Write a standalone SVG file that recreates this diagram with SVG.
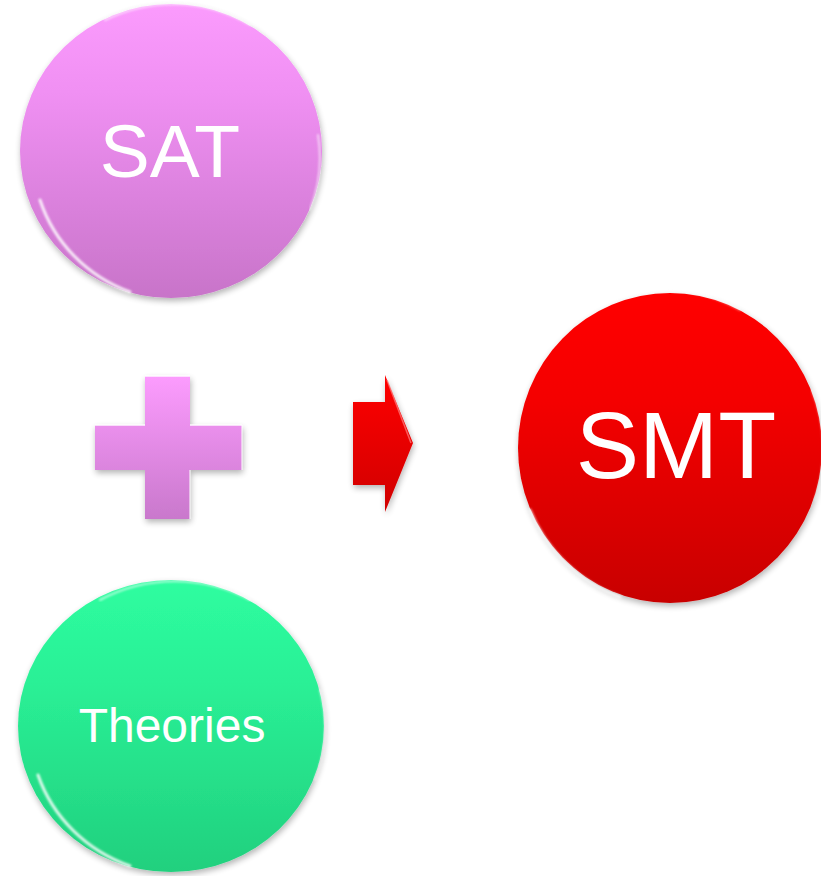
<svg xmlns="http://www.w3.org/2000/svg" width="821" height="876" viewBox="0 0 821 876">
<style>
.lbl{font-family:"Liberation Sans",Arial,sans-serif;fill:#ffffff;text-anchor:middle}
.rim{fill:none;stroke:#ffffff;stroke-linecap:round}
</style>
<defs>
<linearGradient id="gPink" x1="0" y1="0" x2="0" y2="1">
<stop offset="0" stop-color="#FB9BFD"/><stop offset="0.3" stop-color="#F090F3"/><stop offset="1" stop-color="#C874C9"/>
</linearGradient>
<linearGradient id="gRed" x1="0" y1="0" x2="0" y2="1">
<stop offset="0" stop-color="#FF0202"/><stop offset="0.35" stop-color="#F40000"/><stop offset="1" stop-color="#C80000"/>
</linearGradient>
<linearGradient id="gGreen" x1="0" y1="0" x2="0" y2="1">
<stop offset="0" stop-color="#2EFDA0"/><stop offset="0.35" stop-color="#2AF096"/><stop offset="1" stop-color="#21D07E"/>
</linearGradient>
<linearGradient id="gPlus" x1="0" y1="0" x2="0" y2="1">
<stop offset="0" stop-color="#FC9CFE"/><stop offset="1" stop-color="#C978CC"/>
</linearGradient>
<linearGradient id="gArrow" x1="0" y1="0" x2="0" y2="1">
<stop offset="0" stop-color="#FF0505"/><stop offset="1" stop-color="#D00000"/>
</linearGradient>
<filter id="sh" x="-20%" y="-20%" width="140%" height="140%">
<feGaussianBlur in="SourceAlpha" stdDeviation="3"/>
<feOffset dx="1" dy="3" result="b"/>
<feComponentTransfer><feFuncA type="linear" slope="0.3"/></feComponentTransfer>
<feMerge><feMergeNode/><feMergeNode in="SourceGraphic"/></feMerge>
</filter>
<filter id="blur1"><feGaussianBlur stdDeviation="1.2"/></filter>
</defs>

<g id="sat">
<ellipse cx="171" cy="151" rx="151" ry="147" fill="url(#gPink)" filter="url(#sh)"/>
<path class="rim" d="M40 200 A150 146 0 0 0 130 292" stroke-width="3" opacity="0.85" filter="url(#blur1)"/>
<path class="rim" d="M105 20 A150 146 0 0 1 250 25" stroke-width="2" opacity="0.6" filter="url(#blur1)"/>
<path class="rim" d="M318 135 A150 146 0 0 1 310 210" stroke-width="2" opacity="0.6" filter="url(#blur1)"/>
<text class="lbl" x="170" y="177" font-size="75">SAT</text>
</g>

<g id="plus">
<path d="M145 376 H190 V425 H242 V470 H190 V519 H145 V470 H95 V425 H145 Z" fill="url(#gPlus)" filter="url(#sh)"/>
<path d="M145 376 H190 M95 425 H145 M190 425 H242" stroke="#ffffff" stroke-width="2" opacity="0.7" fill="none"/>
<path d="M242 425 V470 M190 470 V519" stroke="#ffffff" stroke-width="2" opacity="0.5" fill="none"/>
</g>

<g id="connectors">
<path d="M353 402 H385 V375 L413 443 L385 512 V485 H353 Z" fill="url(#gArrow)" filter="url(#sh)"/>
<path d="M387 380 L411 443" stroke="#ff8080" stroke-width="1.5" opacity="0.7" fill="none"/>
</g>

<g id="smt">
<ellipse cx="670" cy="448" rx="152" ry="155" fill="url(#gRed)" filter="url(#sh)"/>
<path class="rim" d="M530 510 A152 155 0 0 0 620 597" stroke-width="3" opacity="0.7" filter="url(#blur1)"/>
<path class="rim" d="M600 305 A152 155 0 0 1 740 310" stroke-width="2" opacity="0.5" filter="url(#blur1)"/>
<path class="rim" d="M812 390 A152 155 0 0 1 815 500" stroke-width="2" opacity="0.5" filter="url(#blur1)"/>
<text class="lbl" x="676" y="478" font-size="95">SMT</text>
</g>

<g id="theories">
<ellipse cx="171" cy="726" rx="153" ry="146" fill="url(#gGreen)" filter="url(#sh)"/>
<path class="rim" d="M38 775 A153 146 0 0 0 130 866" stroke-width="3" opacity="0.85" filter="url(#blur1)"/>
<path class="rim" d="M100 600 A153 146 0 0 1 250 600" stroke-width="2" opacity="0.6" filter="url(#blur1)"/>
<path class="rim" d="M320 690 A153 146 0 0 1 315 780" stroke-width="2" opacity="0.6" filter="url(#blur1)"/>
<text class="lbl" x="172" y="742" font-size="48">Theories</text>
</g>
</svg>
